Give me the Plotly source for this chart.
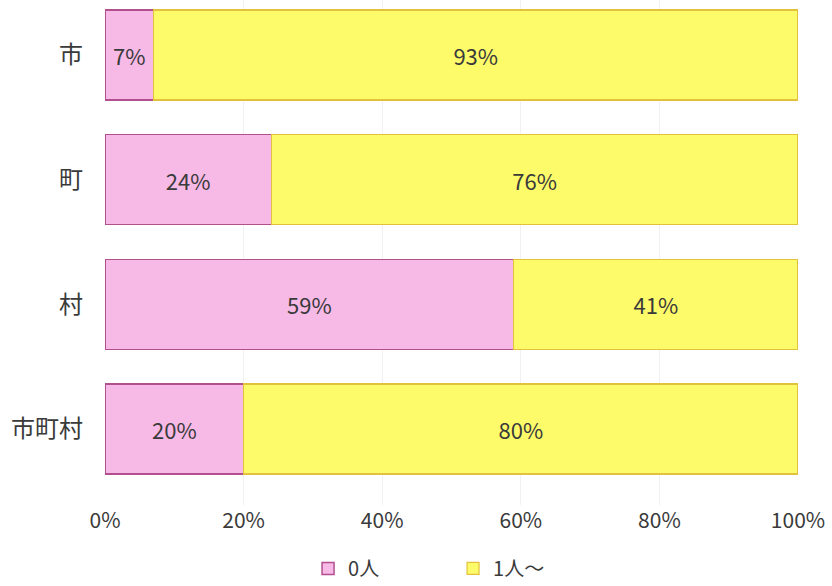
import plotly.graph_objects as go

categories = ["市", "町", "村", "市町村"]
zero = [7, 24, 59, 20]
one_plus = [93, 76, 41, 80]
series_names = ["0人", "1人～"]
x_ticks = [0, 20, 40, 60, 80, 100]
x_tick_labels = ["0%", "20%", "40%", "60%", "80%", "100%"]

font_family = "Noto Sans CJK JP, Noto Sans, sans-serif"
text_color = "#3a3a3a"

fig = go.Figure()
fig.add_trace(go.Bar(
    y=categories, x=zero, name=series_names[0], orientation="h",
    marker=dict(color="#F7B9E6", line=dict(color="#B2508F", width=1.5)),
    text=[f"{v}%" for v in zero], textposition="inside",
    insidetextanchor="middle", textangle=0,
    textfont=dict(size=22, color=text_color, family=font_family),
))
fig.add_trace(go.Bar(
    y=categories, x=one_plus, name=series_names[1], orientation="h",
    marker=dict(color="#FEFB6B", line=dict(color="#E2C23C", width=1.2)),
    text=[f"{v}%" for v in one_plus], textposition="inside",
    insidetextanchor="middle", textangle=0,
    textfont=dict(size=22, color=text_color, family=font_family),
))

fig.update_layout(
    width=832, height=586,
    barmode="stack", bargap=0.278,
    plot_bgcolor="white", paper_bgcolor="white",
    margin=dict(l=105, r=34, t=0, b=81, autoexpand=False),
    font=dict(family=font_family, size=20, color=text_color),
    uniformtext=dict(mode=False),
    legend=dict(
        orientation="h", x=0.293, y=0.03, xanchor="left", yanchor="middle",
        xref="paper", yref="container",
        font=dict(size=20, color=text_color), entrywidth=100,
        traceorder="normal", itemwidth=30,
    ),
    xaxis=dict(
        range=[0, 100], tickvals=x_ticks, ticktext=x_tick_labels,
        showgrid=True, gridcolor="#f1f1f1", zeroline=False,
        showline=False, ticks="", ticklabelstandoff=1,
        tickfont=dict(size=21, color=text_color),
    ),
    yaxis=dict(
        range=[3.609, -0.441], showgrid=False, zeroline=False,
        showline=False, ticks="", ticklabelstandoff=21,
        tickfont=dict(size=24, color=text_color),
    ),
)

fig.write_html("out.html")
